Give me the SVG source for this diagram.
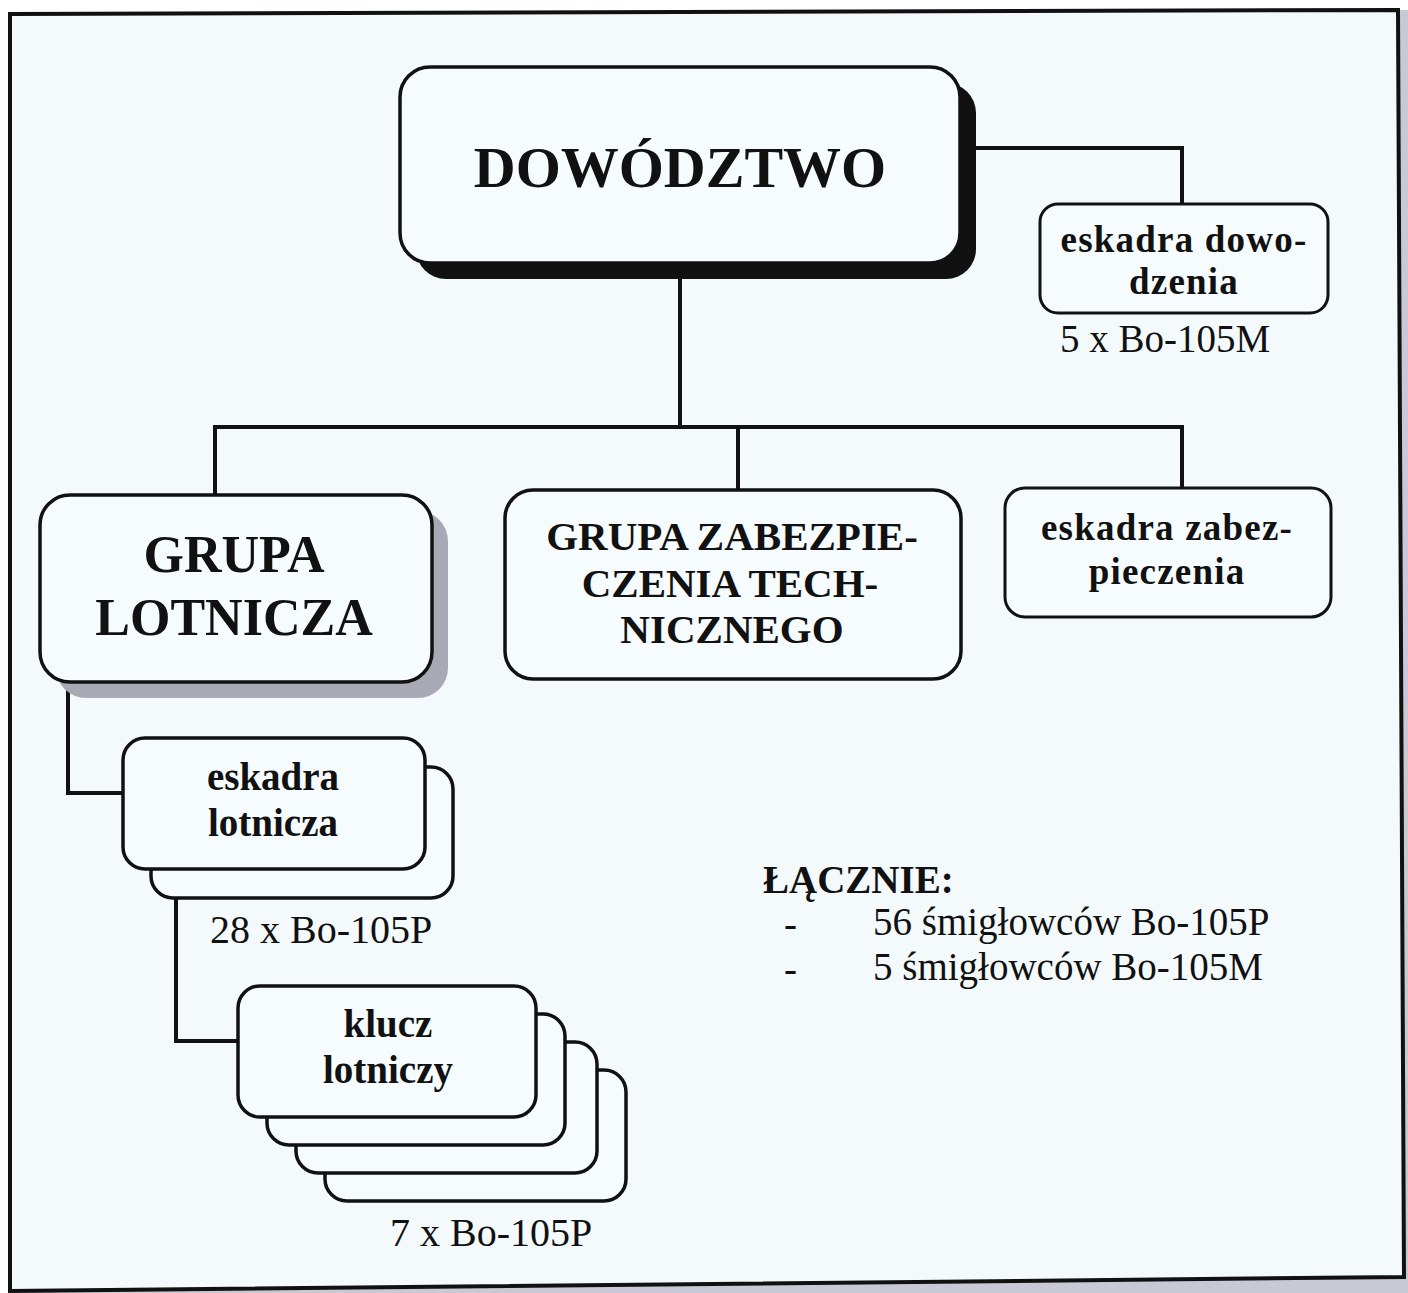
<svg xmlns="http://www.w3.org/2000/svg" width="1408" height="1293" viewBox="0 0 1408 1293">
<style>
.box{fill:#f6fbfd;stroke:#111;stroke-width:3.5}
.thin{fill:#f6fbfd;stroke:#111;stroke-width:3}
.line{fill:none;stroke:#111;stroke-width:4;stroke-linecap:square}
.b{font-family:"Liberation Serif","Times New Roman",serif;font-weight:bold;fill:#111;text-anchor:middle}
.bs{font-family:"Liberation Serif","Times New Roman",serif;font-weight:bold;fill:#111;text-anchor:start}
.r{font-family:"Liberation Serif","Times New Roman",serif;fill:#111}
</style>
<rect x="0" y="0" width="1408" height="1293" fill="#ffffff"/>
<polygon points="1398,10 1408,10 1408,1293 10,1293 10,1291 1404,1277" fill="#c9c9d6"/>
<path d="M10,14 L1398,10 L1404,1277 L10,1291 Z" fill="#f4fafc" stroke="#111" stroke-width="4"/>

<g id="connectors">
  <path class="line" d="M976,148 H1182 V205"/>
  <path class="line" d="M680,278 V427"/>
  <path class="line" d="M215,427 H1182 V488"/>
  <path class="line" d="M215,427 V495"/>
  <path class="line" d="M738,427 V490"/>
  <path class="line" d="M68,682 V793 H123"/>
  <path class="line" d="M176,897 V1041 H238"/>
</g>

<g id="dowodztwo">
  <rect x="416" y="83" width="560" height="196" rx="30" fill="#111"/>
  <rect class="box" x="400" y="67" width="560" height="196" rx="30" stroke-width="4"/>
  <text class="b" x="680" y="187" font-size="58">DOWÓDZTWO</text>
</g>

<g id="eskadra-dowodzenia">
  <rect class="thin" x="1040" y="204" width="288" height="109" rx="18"/>
  <text class="b" x="1184" y="252" font-size="37" letter-spacing="1.2">eskadra dowo-</text>
  <text class="b" x="1184" y="294" font-size="37" letter-spacing="1.2">dzenia</text>
  <text class="r" x="1165" y="352" font-size="39" text-anchor="middle">5 x Bo-105M</text>
</g>

<g id="grupa-lotnicza">
  <rect x="56" y="511" width="392" height="187" rx="30" fill="#a9a9b6"/>
  <rect class="box" x="40" y="495" width="392" height="187" rx="30"/>
  <text class="b" x="234" y="572" font-size="52">GRUPA</text>
  <text class="b" x="234" y="635" font-size="52">LOTNICZA</text>
</g>

<g id="grupa-zabezpieczenia">
  <rect class="box" x="505" y="490" width="456" height="189" rx="28"/>
  <text class="b" x="732" y="550" font-size="41">GRUPA ZABEZPIE-</text>
  <text class="b" x="730" y="597" font-size="41">CZENIA TECH-</text>
  <text class="b" x="732" y="643" font-size="41">NICZNEGO</text>
</g>

<g id="eskadra-zabezpieczenia">
  <rect class="thin" x="1005" y="488" width="326" height="129" rx="20"/>
  <text class="b" x="1167" y="540" font-size="37" letter-spacing="1.2">eskadra zabez-</text>
  <text class="b" x="1167" y="584" font-size="37" letter-spacing="1.2">pieczenia</text>
</g>

<g id="eskadra-lotnicza">
  <rect class="box" x="151" y="767" width="302" height="131" rx="22"/>
  <rect class="box" x="123" y="738" width="302" height="131" rx="22"/>
  <text class="b" x="273" y="790" font-size="39">eskadra</text>
  <text class="b" x="273" y="836" font-size="39">lotnicza</text>
  <text class="r" x="210" y="943" font-size="40">28 x Bo-105P</text>
</g>

<g id="klucz-lotniczy">
  <rect class="box" x="325" y="1070" width="301" height="131" rx="22"/>
  <rect class="box" x="296" y="1042" width="301" height="131" rx="22"/>
  <rect class="box" x="267" y="1014" width="298" height="131" rx="22"/>
  <rect class="box" x="238" y="986" width="298" height="131" rx="22"/>
  <text class="b" x="388" y="1037" font-size="39">klucz</text>
  <text class="b" x="388" y="1083" font-size="39">lotniczy</text>
  <text class="r" x="390" y="1246" font-size="40">7 x Bo-105P</text>
</g>

<g id="lacznie">
  <text class="bs" x="763" y="893" font-size="39">ŁĄCZNIE:</text>
  <text class="r" x="784" y="937" font-size="39">-</text>
  <text class="r" x="873" y="935" font-size="39">56 śmigłowców Bo-105P</text>
  <text class="r" x="784" y="982" font-size="39">-</text>
  <text class="r" x="873" y="980" font-size="39">5 śmigłowców Bo-105M</text>
</g>
</svg>
